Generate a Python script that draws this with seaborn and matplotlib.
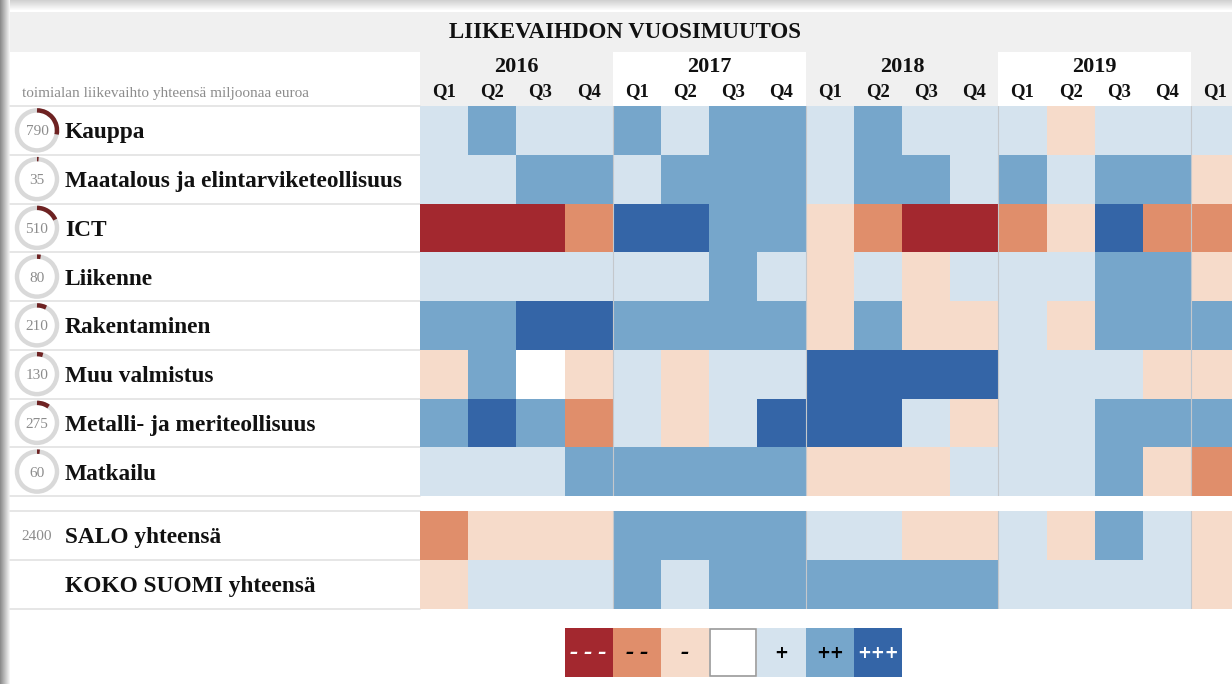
# Liikevaihdon vuosimuutos - toimialat, heatmap
import numpy as np
import pandas as pd
import matplotlib
matplotlib.use('Agg')
import matplotlib.pyplot as plt
import seaborn as sns
from matplotlib.colors import ListedColormap
from matplotlib.patches import Rectangle, Circle, Arc

# --- data ---
years = ['2016', '2017', '2018', '2019', '2020']
quarters = ['Q1', 'Q2', 'Q3', 'Q4']
columns = [f'{y} {q}' for y in years[:4] for q in quarters] + ['2020 Q1']

industries = ['Kauppa', 'Maatalous ja elintarviketeollisuus', 'ICT', 'Liikenne',
              'Rakentaminen', 'Muu valmistus', 'Metalli- ja meriteollisuus', 'Matkailu']
turnover = [790, 35, 510, 80, 210, 130, 275, 60]   # milj. euroa
total_label = 'SALO yhteensä'
total_turnover = 2400
finland_label = 'KOKO SUOMI yhteensä'
gauge_max = 2800   # rengasmittarin taysi kierros

# muutosluokka: -3 = ---, ... , 0 = ei muutosta, ... , 3 = +++
kauppa       = [1, 2, 1, 1,   2, 1, 2, 2,   1, 2, 1, 1,   1, -1, 1, 1,   1]
maatalous    = [1, 1, 2, 2,   1, 2, 2, 2,   1, 2, 2, 1,   2, 1, 2, 2,   -1]
ict          = [-3, -3, -3, -2, 3, 3, 2, 2, -1, -2, -3, -3, -2, -1, 3, -2, -2]
liikenne     = [1, 1, 1, 1,   1, 1, 2, 1,   -1, 1, -1, 1,  1, 1, 2, 2,   -1]
rakentaminen = [2, 2, 3, 3,   2, 2, 2, 2,   -1, 2, -1, -1, 1, -1, 2, 2,  2]
muu          = [-1, 2, 0, -1, 1, -1, 1, 1,  3, 3, 3, 3,    1, 1, 1, -1,  -1]
metalli      = [2, 3, 2, -2,  1, -1, 1, 3,  3, 3, 1, -1,   1, 1, 2, 2,   2]
matkailu     = [1, 1, 1, 2,   2, 2, 2, 2,   -1, -1, -1, 1, 1, 1, 2, -1,  -2]
salo         = [-2, -1, -1, -1, 2, 2, 2, 2, 1, 1, -1, -1,  1, -1, 2, 1,  -1]
koko_suomi   = [-1, 1, 1, 1,  2, 1, 2, 2,   2, 2, 2, 2,    1, 1, 1, 1,   -1]

legend_levels = [-3, -2, -1, 0, 1, 2, 3]
legend_labels = ['– – –', '– –', '–', '', '+', '++', '+++']
legend_text_colors = ['white', 'black', 'black', 'black', 'black', 'black', 'white']
palette = ['#a3282f', '#e08e6b', '#f6dbca', '#ffffff', '#d5e3ee', '#76a6cb', '#3465a7']

df_top = pd.DataFrame([kauppa, maatalous, ict, liikenne, rakentaminen, muu, metalli, matkailu],
                      index=industries, columns=columns)
df_bot = pd.DataFrame([salo, koko_suomi], index=[total_label, finland_label], columns=columns)

# --- style ---
sns.set_theme(style='white')
plt.rcParams['font.family'] = ['Liberation Serif', 'DejaVu Serif']
cmap = ListedColormap(palette)

W, H = 1232, 684
GRID_X, COL_W = 420, 48.2
TOP_Y, ROW_H, GAP = 106, 48.75, 15
LEG_Y, LEG_H = 628, 49
GREY_BG = '#f0f0f0'
LINE = '#e2e2e2'

fig = plt.figure(figsize=(W / 100, H / 100), dpi=100)
ov = fig.add_axes([0, 0, 1, 1])
ov.set_xlim(0, W)
ov.set_ylim(H, 0)
ov.axis('off')

# ikkunan varjo vasemmassa ja ylareunassa
for k in range(10):
    g = 0.55 + 0.045 * k
    ov.add_patch(Rectangle((k, 0), 1, H, color=(g, g, g), lw=0))
for k in range(10):
    g = 0.82 + 0.018 * k
    ov.add_patch(Rectangle((10, k), W, 1, color=(g, g, g), lw=0))

# otsikko
ov.add_patch(Rectangle((10, 12), W, 40, color=GREY_BG, lw=0))
ov.text(625, 33, 'LIIKEVAIHDON VUOSIMUUTOS', ha='center', va='center',
        fontsize=16.5, fontweight='bold', color='#111111')

# vuosi- ja kvartaaliotsikot
for j, y in enumerate(years):
    x0 = GRID_X + j * 4 * COL_W
    ov.add_patch(Rectangle((x0, 52), 4 * COL_W, 54,
                           color=GREY_BG if j % 2 == 0 else 'white', lw=0))
    if j < 4:
        ov.text(x0 + 2 * COL_W, 67, y, ha='center', va='center',
                fontsize=16, fontweight='bold', color='#111111')
for c in range(len(columns)):
    ov.text(GRID_X + (c + 0.5) * COL_W, 92, columns[c].split()[1], ha='center',
            va='center', fontsize=13.5, fontweight='bold', color='#111111')

ov.text(22, 93, 'toimialan liikevaihto yhteensä miljoonaa euroa', ha='left',
        va='center', fontsize=11, color='#8c8c8c')

# --- heatmapit ---
n_vis = (W - GRID_X) / COL_W
bot_y = TOP_Y + len(industries) * ROW_H + GAP

ax_top = fig.add_axes([GRID_X / W, 1 - (TOP_Y + len(industries) * ROW_H) / H,
                       (W - GRID_X) / W, len(industries) * ROW_H / H])
ax_bot = fig.add_axes([GRID_X / W, 1 - (bot_y + 2 * ROW_H) / H,
                       (W - GRID_X) / W, 2 * ROW_H / H])
for ax, d in [(ax_top, df_top), (ax_bot, df_bot)]:
    sns.heatmap(d, ax=ax, cmap=cmap, vmin=-3.5, vmax=3.5, cbar=False,
                xticklabels=False, yticklabels=False)
    ax.set_xlim(0, n_vis)
    for x in range(4, len(columns), 4):
        ax.axvline(x, color='#c4c8cc', lw=0.8)
    ax.set_xlabel('')
    ax.set_ylabel('')

# --- rivien nimet ja rengasmittarit ---
def row_lines(y_start, n):
    for i in range(n + 1):
        ov.plot([10, GRID_X], [y_start + i * ROW_H] * 2, color=LINE, lw=1.2)

row_lines(TOP_Y, len(industries))
row_lines(bot_y, 2)

for i, (name, val) in enumerate(zip(industries, turnover)):
    yc = TOP_Y + (i + 0.5) * ROW_H
    ov.add_patch(Circle((37, yc), 20, fill=False, ec='#d9d9d9', lw=3.2))
    ov.add_patch(Arc((37, yc), 40, 40, theta1=270, theta2=270 + 360 * val / gauge_max,
                     color='#6e2222', lw=3.2))
    ov.text(37, yc, str(val), ha='center', va='center_baseline', fontsize=11, color='#8c8c8c')
    ov.text(65, yc, name, ha='left', va='center_baseline', fontsize=16.8,
            fontweight='bold', color='#111111')

for i, name in enumerate(df_bot.index):
    yc = bot_y + (i + 0.5) * ROW_H
    if i == 0:
        ov.text(37, yc, str(total_turnover), ha='center', va='center_baseline',
                fontsize=11, color='#8c8c8c')
    ov.text(65, yc, name, ha='left', va='center_baseline', fontsize=16.8,
            fontweight='bold', color='#111111')

# --- selite ---
ax_leg = fig.add_axes([(GRID_X + 3 * COL_W) / W, 1 - (LEG_Y + LEG_H) / H,
                       7 * COL_W / W, LEG_H / H])
sns.heatmap([legend_levels], ax=ax_leg, cmap=cmap, vmin=-3.5, vmax=3.5, cbar=False,
            annot=[legend_labels], fmt='', xticklabels=False, yticklabels=False,
            annot_kws={'fontsize': 12, 'fontweight': 'bold', 'family': 'DejaVu Sans'})
for t, c in zip(ax_leg.texts, legend_text_colors):
    t.set_color(c)
    t.set_fontstyle('oblique')
ax_leg.add_patch(Rectangle((3.02, 0.03), 0.96, 0.94, fill=False, ec='#9a9a9a', lw=1.2))

fig.savefig('out.png', dpi=100)
